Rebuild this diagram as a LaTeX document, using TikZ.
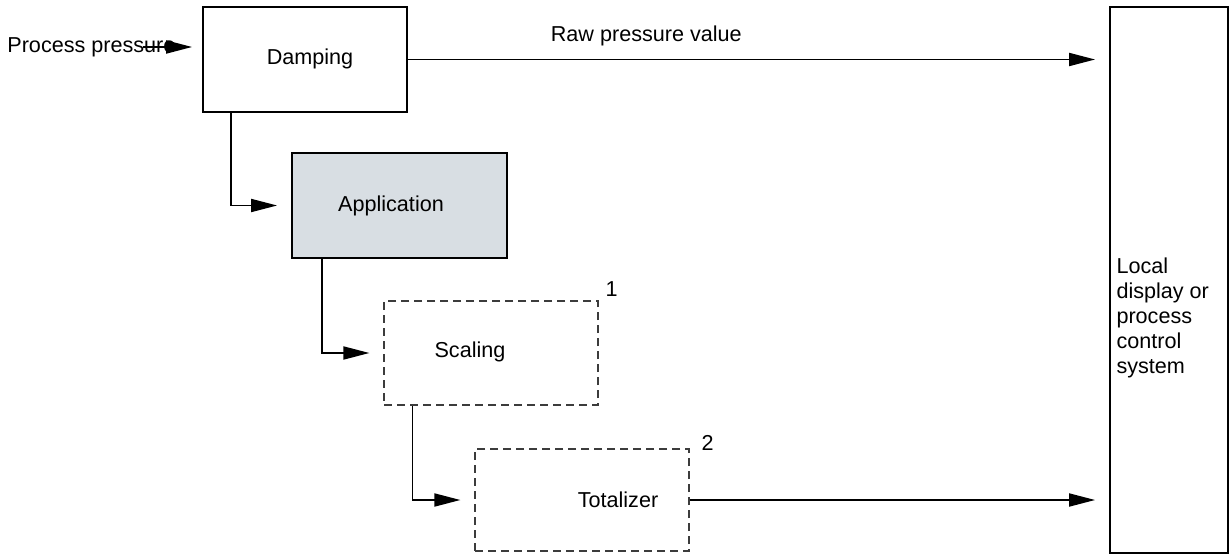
\documentclass[tikz,border=0pt]{standalone}
\usepackage{fontspec}
\setmainfont{Liberation Sans}
\usetikzlibrary{arrows.meta,positioning,calc}
\definecolor{appgray}{HTML}{D8DEE3}
\definecolor{dashgray}{HTML}{3C3C3C}
\tikzset{
  >={Triangle[length=13pt,width=6.5pt]},
  blk/.style={draw=black,line width=0.9pt,fill=white,font=\fontsize{10.8}{13}\selectfont,inner sep=0pt},
  gblk/.style={blk,fill=appgray},
  dblk/.style={blk,draw=dashgray,line width=0.6pt,dash pattern=on 4pt off 2.5pt},
  lab/.style={font=\fontsize{10.8}{12.5}\selectfont,align=left,inner sep=0pt},
  arr/.style={->,draw=black,line width=0.9pt,shorten >=7pt},
}
\begin{document}
\begin{tikzpicture}[x=0.5pt,y=-0.5pt]
\useasboundingbox (0,0) rectangle (1232,556);
% blocks
\node[blk,minimum width=102pt,minimum height=52.5pt] (damp) at (305,59.5) {\hspace*{5pt}\raisebox{3.25pt}{Damping}};
\node[gblk,minimum width=107.5pt,minimum height=52.5pt] (app) at (399.5,205.5) {Application\hspace*{8.5pt}};
\node[dblk,minimum width=107pt,minimum height=52pt] (scal) at (491,353) {\raisebox{3.5pt}{Scaling}\hspace*{21pt}};
\node[dblk,minimum width=107pt,minimum height=51pt] (tot) at (582,500) {\hspace*{36pt}Totalizer};
\node[blk,minimum width=59pt,minimum height=273pt] (local) at (1169,280) {};
\node[lab,anchor=west] (loctxt) at ([xshift=3.5pt,yshift=-19pt]local.west) {Local\\display or\\process\\control\\system};
\node[lab] (n1) at ([xshift=6.5pt,yshift=5.5pt]scal.north east) {1};
\node[lab] (n2) at ([xshift=9pt,yshift=2.5pt]tot.north east) {2};
\node[lab,anchor=west] (pp) at (7,47) {Process pressure};
% signal flow
\draw[arr,shorten >=5pt] ([xshift=-16.5pt]pp.east) -- (pp.east -| damp.west);
\draw[arr] (damp.east) -- node[lab,pos=0.34,above=6.5pt] (raw) {Raw pressure value} (damp.east -| local.west);
\draw[arr] ([xshift=14.5pt]damp.south west) |- (app.west);
\draw[arr] ([xshift=15.5pt]app.south west) |- (scal.west);
\draw[arr] ([xshift=14.5pt]scal.south west) |- (tot.west);
\draw[arr] (tot.east) -- (tot.east -| local.west);
\end{tikzpicture}
\end{document}
